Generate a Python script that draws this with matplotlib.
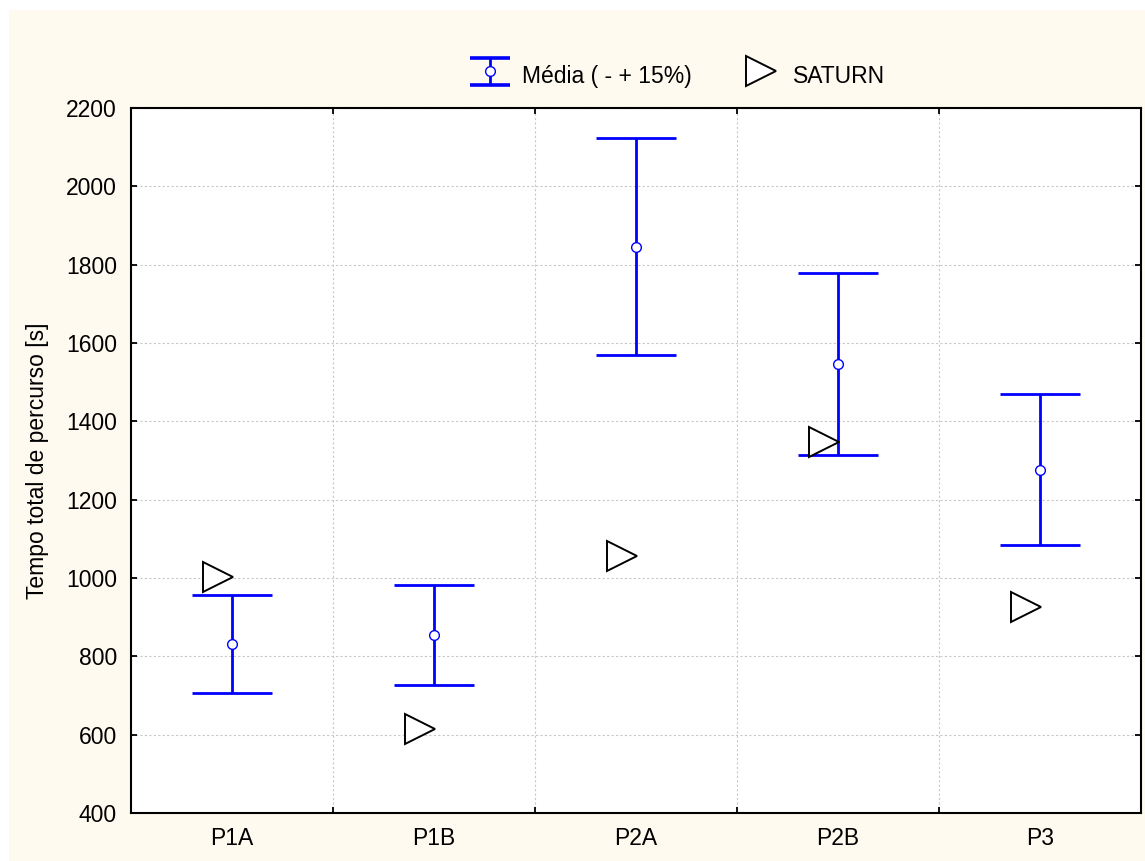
import numpy as np
import matplotlib
matplotlib.use("Agg")
import matplotlib.pyplot as plt
from matplotlib.patches import Rectangle
from matplotlib.legend_handler import HandlerErrorbar

plt.rcParams['font.family'] = ['Liberation Sans', 'DejaVu Sans']

# -----------------------------
# Data
# -----------------------------
categories = ['P1A', 'P1B', 'P2A', 'P2B', 'P3']
media = [832, 855, 1846, 1547, 1277]      # mean, shown with -/+15% bars
saturn = [1003, 615, 1057, 1346, 927]      # SATURN result
pct = 0.15

x = np.arange(len(categories))
media = np.array(media, dtype=float)
yerr = pct * media

# -----------------------------
# Figure
# -----------------------------
fig = plt.figure(figsize=(11.45, 8.61), dpi=100)
fig.patch.set_facecolor('white')
fig.patches.append(Rectangle((9 / 1145, 0), 1, 1 - 10 / 861, transform=fig.transFigure,
                             facecolor='#fffaef', edgecolor='none', zorder=-10))

ax = fig.add_axes([131 / 1145, 1 - 813 / 861, (1141 - 131) / 1145, (813 - 108) / 861])
ax.set_facecolor('white')

blue = '#0000ff'
fs = 16.5
lw = 2.0
ax.errorbar(x, media, yerr=yerr, fmt='o', color=blue, ecolor=blue,
            elinewidth=lw, capsize=0,
            markersize=7, markerfacecolor='white', markeredgecolor=blue,
            markeredgewidth=1.0, zorder=3)
# caps drawn as horizontal segments
cap_half = 0.198
ax.hlines(media + yerr, x - cap_half, x + cap_half, color=blue, linewidth=lw, zorder=2.9)
ax.hlines(media - yerr, x - cap_half, x + cap_half, color=blue, linewidth=lw, zorder=2.9)

ax.plot(x - 0.07, saturn, linestyle='none', marker='>', markersize=21,
        markerfacecolor='white', markeredgecolor='black', markeredgewidth=1.4,
        zorder=4)

# legend proxies
h_err = ax.errorbar([0], [np.nan], yerr=[[np.nan]], fmt='o', color=blue, ecolor=blue,
                    elinewidth=lw, capsize=14.5, capthick=lw,
                    markersize=7, markerfacecolor='white', markeredgecolor=blue,
                    markeredgewidth=1.0)
h_sat, = ax.plot([], [], linestyle='none', marker='>', markersize=21,
                 markerfacecolor='white', markeredgecolor='black', markeredgewidth=1.4)

ax.set_xlim(-0.5, len(categories) - 0.5)
ax.set_ylim(400, 2200)
ax.set_yticks(np.arange(400, 2201, 200))
ax.set_xticks(x)
ax.set_xticklabels(categories)
ax.set_xticks(np.arange(0.5, len(categories) - 0.5, 1), minor=True)

ax.tick_params(axis='both', which='major', labelsize=fs, direction='in', width=1.3, length=4)
ax.tick_params(axis='x', which='major', length=0, pad=10)
ax.tick_params(axis='x', which='minor', direction='in', length=4, width=1.3, top=True, bottom=True)
ax.tick_params(axis='y', which='major', right=True, left=True, pad=10)

ax.grid(True, axis='y', which='major', color='#c8c8c8', linestyle=(0, (2, 2)), linewidth=0.8)
ax.grid(True, axis='x', which='minor', color='#c8c8c8', linestyle=(0, (2, 2)), linewidth=0.8)
ax.set_axisbelow(True)

for s in ax.spines.values():
    s.set_linewidth(1.5)
    s.set_color('black')

ax.set_ylabel('Tempo total de percurso [s]', fontsize=fs, labelpad=12)

leg = fig.legend([h_err, h_sat], ['Média ( - + 15%)', 'SATURN'], loc='center',
                 bbox_to_anchor=(676 / 1145, 1 - 75 / 861), ncol=2, frameon=False, fontsize=fs,
                 handlelength=2.0, handleheight=1.6, columnspacing=2.0, handletextpad=0.4,
                 handler_map={type(h_err): HandlerErrorbar(yerr_size=0.6)})
# thicken the legend caps
for child in leg.findobj(matplotlib.lines.Line2D):
    if child.get_marker() == '_':
        child.set_markeredgewidth(lw + 0.6)

fig.savefig('out.png', dpi=100)
